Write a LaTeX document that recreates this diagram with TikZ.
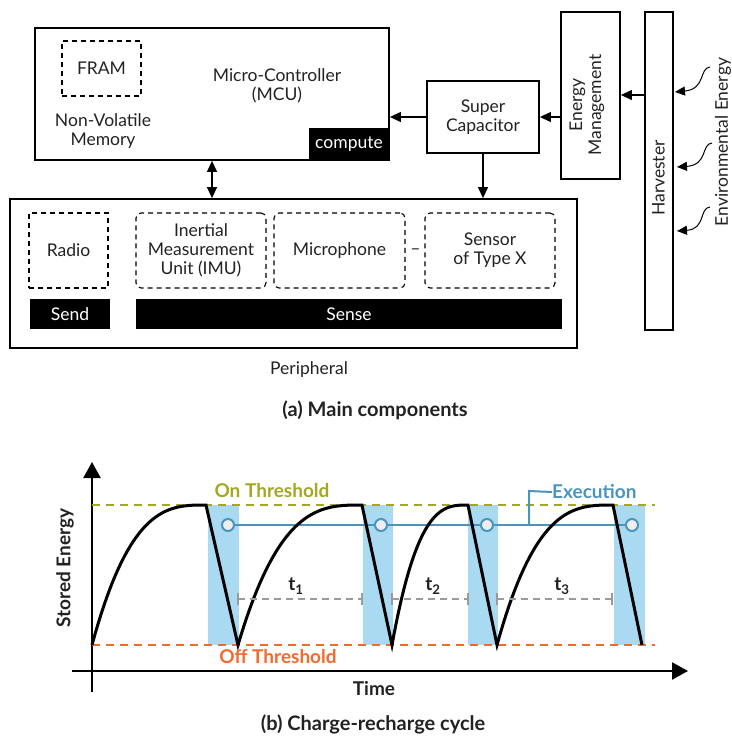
\documentclass[tikz,border=0pt]{standalone}
\usepackage{fontspec}
\setmainfont{Lato}
\usetikzlibrary{arrows.meta}
\definecolor{onc}{HTML}{A3A820}
\definecolor{offc}{HTML}{F26A2C}
\definecolor{exc}{HTML}{4B94BC}
\definecolor{bluefill}{HTML}{A9DAF2}
\definecolor{tgray}{HTML}{9A9A9A}
\definecolor{txt}{HTML}{222222}
\definecolor{circfill}{HTML}{EEEEEE}
\begin{document}
\begin{tikzpicture}[x=1pt,y=-1pt,
  font=\fontsize{17.5}{19}\selectfont, text=txt,
  box/.style={draw, line width=1.8pt, inner sep=0pt},
  dbox/.style={draw, line width=1.1pt, dash pattern=on 5pt off 4pt, inner sep=0pt},
  rdbox/.style={dbox, rounded corners=5pt},
  blk/.style={fill=black, text=white, inner sep=0pt},
  lbl/.style={align=center, inner sep=0pt},
  conn/.style={line width=1.2pt, -{Triangle[length=11pt,width=10pt]}},
  dconn/.style={line width=1.2pt, {Triangle[length=11pt,width=10pt]}-{Triangle[length=11pt,width=10pt]}},
  squig/.style={line width=1pt, -{Triangle[length=10pt,width=9pt]}},
  axisl/.style={line width=2.2pt, -{Triangle[length=16pt,width=17pt]}},
  crv/.style={line width=3pt, black},
  thr/.style={line width=2pt, dash pattern=on 8pt off 6pt},
  tint/.style={line width=2pt, tgray, dash pattern=on 7pt off 5pt},
  tickm/.style={line width=2.5pt, tgray},
  barr/.style={fill=bluefill, draw=none},
  circm/.style={circle, draw=exc, fill=circfill, line width=2pt, minimum size=12pt, inner sep=0pt},
  capt/.style={font=\fontsize{20}{22}\selectfont\bfseries, inner sep=0pt},
  glbl/.style={font=\fontsize{19}{21}\selectfont\bfseries, inner sep=0pt}
]
\useasboundingbox (0,0) rectangle (731,736);

% ---------- (a) main components ----------
\node[box, minimum width=354pt, minimum height=132pt] (mcu) at (212,94) {};
\node[dbox, minimum width=79pt, minimum height=55pt] (fram) at (101.5,68.5) {FRAM};
\node[lbl] (nvm) at (103,131) {Non-Volatile\\Memory};
\node[lbl] (mcut) at (277,86) {Micro-Controller\\(MCU)};
\node[blk, minimum width=80pt, minimum height=32pt] (comp) at (349,144) {compute};

\node[box, minimum width=112pt, minimum height=72pt, align=center] (sc) at (483,117) {Super\\Capacitor};
\node[box, minimum width=59pt, minimum height=167pt] (em) at (590.5,95.5) {};
\node[lbl, rotate=90] (emt) at (587,105) {Energy\\Management};
\node[box, minimum width=28pt, minimum height=318pt] (harv) at (659,171) {};
\node[lbl, rotate=90] (harvt) at (658.5,178) {Harvester};
\node[lbl, rotate=90] (env) at (723,142) {Environmental Energy};

\node[box, minimum width=567pt, minimum height=149pt] (per) at (293.5,273.5) {};
\node[dbox, minimum width=79pt, minimum height=75pt] (radio) at (68.5,250.5) {Radio};
\node[blk, minimum width=80pt, minimum height=30pt] (send) at (70,314) {Send};
\node[rdbox, minimum width=130pt, minimum height=75pt, align=center] (imu) at (201,250.5) {Inertial\\Measurement\\Unit (IMU)};
\node[rdbox, minimum width=131pt, minimum height=75pt] (mic) at (339.5,250.5) {Microphone};
\node[lbl] (dots) at (415.5,252) {–};
\node[rdbox, minimum width=130pt, minimum height=75pt, align=center] (sx) at (490,250.5) {Sensor\\of Type X};
\node[blk, minimum width=426pt, minimum height=30pt] (sense) at (349,314) {Sense};
\node[lbl] (pert) at (309,370) {Peripheral};
\node[capt] (capa) at (375,410) {(a) Main components};

% connectors
\coordinate (h1) at (0,95);
\draw[conn] (harv.west |- h1) -- (em.east |- h1);
\draw[conn] (em.west |- sc.east) -- (sc.east);
\draw[conn] (sc.west) -- (mcu.east |- sc.west);
\draw[conn] (sc.south) -- (per.north -| sc.south);
\draw[dconn] (mcu.south) -- (per.north -| mcu.south);

\coordinate (s1) at (710,67);
\coordinate (s2) at (712,143);
\coordinate (s3) at (710,207);
\coordinate (e1) at (675,92);
\coordinate (e2) at (677,167);
\coordinate (e3) at (677,231);
\draw[squig] (s1) .. controls (699,68) and (706,89) .. (e1);
\draw[squig] (s2) .. controls (701,144) and (708,165) .. (e2);
\draw[squig] (s3) .. controls (699,208) and (706,229) .. (e3);

% ---------- (b) charge-recharge cycle ----------
\fill[barr] (208,505) rectangle (239,645);
\fill[barr] (363,505) rectangle (393,645);
\fill[barr] (468,505) rectangle (498,645);
\fill[barr] (614,505) rectangle (645,645);

\coordinate (yo) at (92,692);
\coordinate (yt) at (92,462);
\coordinate (xo) at (72,671);
\coordinate (xt) at (688,671);
\draw[axisl] (yo) -- (yt);
\draw[axisl] (xo) -- (xt);

\draw[thr, onc] (92,505) -- (655,505);
\draw[thr, offc] (92,645) -- (655,645);

% execution line
\coordinate (ex1) at (228,525);
\coordinate (ex4) at (632,525);
\draw[exc, line width=2pt] (ex1) -- (ex4);
\node[glbl, text=exc, anchor=west] (exl) at (552,492) {Execution};
\draw[exc, line width=2pt] (529,525) -- (529,491) -- (exl.west);

% curves
\draw[crv]
  plot[domain=0:1, samples=40] ({92+114*\x},{645-140*(1-(1-\x)^3)})
  -- (238,645)
  -- plot[domain=0:1, samples=40] ({238+124*\x},{645-140*(1-(1-\x)^3)})
  -- (392,645)
  -- plot[domain=0:1, samples=40] ({392+76*\x},{645-140*(1-(1-\x)^3)})
  -- (497,645)
  -- plot[domain=0:1, samples=40] ({497+116*\x},{645-140*(1-(1-\x)^3)})
  -- (642,645);

\node[circm] (c1) at (228,525) {};
\node[circm] (c2) at (381,525) {};
\node[circm] (c3) at (487,525) {};
\node[circm] (c4) at (632,525) {};

% time intervals
\draw[tint] (238,599) -- (362,599);
\draw[tint] (392,599) -- (468,599);
\draw[tint] (497,599) -- (612,599);
\foreach \xx in {238,362,392,468,497,612} \draw[tickm] (\xx,593) -- (\xx,605);
\node[glbl] (t1) at (296,586) {t\textsubscript{1}};
\node[glbl] (t2) at (433,586) {t\textsubscript{2}};
\node[glbl] (t3) at (562,586) {t\textsubscript{3}};

\node[glbl, text=onc] (onl) at (272,491) {On Threshold};
\node[glbl, text=offc] (offl) at (278,657) {Off Threshold};
\node[glbl, rotate=90] (sel) at (65,568) {Stored Energy};
\node[glbl] (timel) at (374,689) {Time};
\node[capt] (capb) at (373,724) {(b) Charge-recharge cycle};
\end{tikzpicture}
\end{document}
